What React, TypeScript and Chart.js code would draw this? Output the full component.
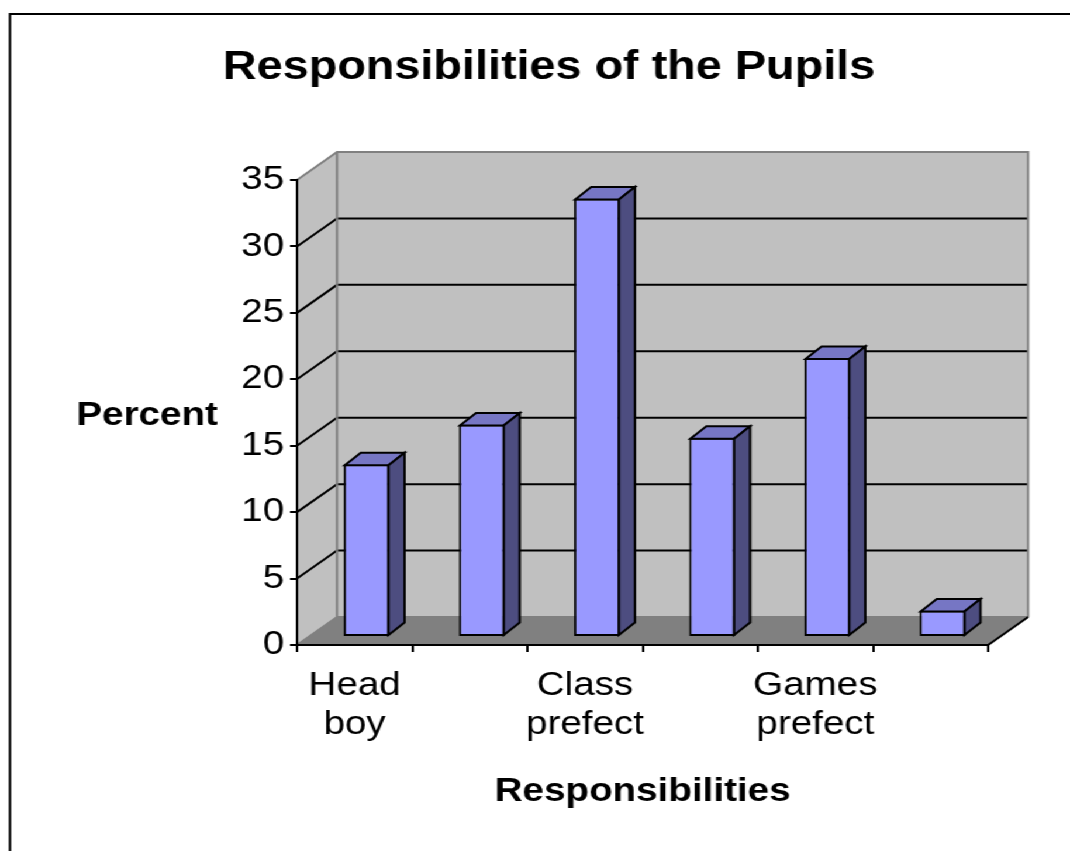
import React, { useEffect, useRef } from "react";
import { Chart, registerables } from "chart.js";

Chart.register(...registerables);

// ---- data ----
const categories = ["Head boy", "", "Class prefect", "", "Games prefect", ""];
const percentValues = [13, 16, 33, 15, 21, 2];
const yTickMin = 0;
const yTickMax = 35;
const yTickStep = 5;

const titleText = "Responsibilities of the Pupils";
const yAxisTitle = "Percent";
const xAxisTitle = "Responsibilities";

// ---- layout / style ----
const CANVAS_W = 915;
const CANVAS_H = 851;
const STRETCH = 1070 / CANVAS_W;
const FONT = "'Liberation Sans', Arial, Helvetica, sans-serif";

const WALL_DX = 34.2;
const WALL_DY = -28;
const BAR_SHIFT_X = 10.3;
const BAR_SHIFT_Y = -8;
const BAR_DX = 13.7;
const BAR_DY = -12.5;

const BAR_FRONT = "#9999FF";
const BAR_TOP = "#7676C4";
const BAR_SIDE = "#4D4D80";
const WALL = "#C0C0C0";
const FLOOR = "#808080";
const EDGE = "#808080";

const threeDPlugin = {
  id: "threeD",
  beforeDraw(chart: any) {
    const { ctx, chartArea: a, scales } = chart;
    const y = scales.y;
    const L = a.left;
    const R = a.right;
    const B = y.getPixelForValue(yTickMin);
    const T = y.getPixelForValue(yTickMax);
    const dx = WALL_DX;
    const dy = WALL_DY;
    ctx.save();
    ctx.fillStyle = "#fff";
    ctx.fillRect(0, 0, chart.width, chart.height);
    // outer frame
    ctx.strokeStyle = "#000";
    ctx.lineWidth = 2;
    ctx.strokeRect(8.5, 14, 3000, 3000);

    // side wall
    ctx.fillStyle = WALL;
    ctx.beginPath();
    ctx.moveTo(L, T);
    ctx.lineTo(L + dx, T + dy);
    ctx.lineTo(L + dx, B + dy);
    ctx.lineTo(L, B);
    ctx.closePath();
    ctx.fill();
    // back wall
    ctx.fillRect(L + dx, T + dy, R - L, B - T);
    // floor
    ctx.fillStyle = FLOOR;
    ctx.beginPath();
    ctx.moveTo(L, B);
    ctx.lineTo(R, B);
    ctx.lineTo(R + dx, B + dy);
    ctx.lineTo(L + dx, B + dy);
    ctx.closePath();
    ctx.fill();

    // gridlines
    ctx.strokeStyle = "#000";
    ctx.lineWidth = 2;
    for (let v = yTickMin + yTickStep; v < yTickMax; v += yTickStep) {
      const py = y.getPixelForValue(v);
      ctx.beginPath();
      ctx.moveTo(L, py);
      ctx.lineTo(L + dx, py + dy);
      ctx.lineTo(R + dx, py + dy);
      ctx.stroke();
    }

    // wall edges
    ctx.strokeStyle = EDGE;
    ctx.lineWidth = 2;
    ctx.beginPath();
    ctx.moveTo(L, T);
    ctx.lineTo(L + dx, T + dy);
    ctx.lineTo(R + dx, T + dy);
    ctx.lineTo(R + dx, B + dy);
    ctx.moveTo(L + dx, T + dy);
    ctx.lineTo(L + dx, B + dy);
    ctx.lineTo(R + dx, B + dy);
    ctx.moveTo(L, B);
    ctx.lineTo(L + dx, B + dy);
    ctx.stroke();

    // floor right edge
    ctx.strokeStyle = "#000";
    ctx.beginPath();
    ctx.moveTo(R, B);
    ctx.lineTo(R + dx, B + dy);
    ctx.stroke();
    ctx.restore();
  },
  beforeDatasetsDraw(chart: any) {
    chart.ctx.save();
    chart.ctx.translate(BAR_SHIFT_X, BAR_SHIFT_Y);
  },
  afterDatasetsDraw(chart: any) {
    const ctx = chart.ctx;
    const meta = chart.getDatasetMeta(0);
    ctx.lineWidth = 2;
    ctx.strokeStyle = "#000";
    ctx.lineJoin = "miter";
    meta.data.forEach((el: any) => {
      const { x, y, base, width } = el.getProps(["x", "y", "base", "width"], true);
      const l = x - width / 2 + 1;
      const r = x + width / 2 - 1;
      const t = y + 1;
      const b = base - 1;
      // top face
      ctx.fillStyle = BAR_TOP;
      ctx.beginPath();
      ctx.moveTo(l, t);
      ctx.lineTo(l + BAR_DX, t + BAR_DY);
      ctx.lineTo(r + BAR_DX, t + BAR_DY);
      ctx.lineTo(r, t);
      ctx.closePath();
      ctx.fill();
      ctx.stroke();
      // side face
      ctx.fillStyle = BAR_SIDE;
      ctx.beginPath();
      ctx.moveTo(r, t);
      ctx.lineTo(r + BAR_DX, t + BAR_DY);
      ctx.lineTo(r + BAR_DX, b + BAR_DY);
      ctx.lineTo(r, b);
      ctx.closePath();
      ctx.fill();
      ctx.stroke();
    });
    ctx.restore();
  },
  afterDraw(chart: any) {
    const ctx = chart.ctx;
    ctx.save();
    ctx.fillStyle = "#000";
    ctx.font = `bold 33px ${FONT}`;
    ctx.textAlign = "center";
    ctx.textBaseline = "alphabetic";
    ctx.fillText(yAxisTitle, 125.8, 425);
    ctx.restore();
  },
};

export default function App() {
  const ref = useRef<HTMLCanvasElement>(null);

  useEffect(() => {
    if (!ref.current) return;
    const chart = new Chart(ref.current, {
      type: "bar",
      data: {
        labels: categories,
        datasets: [
          {
            data: percentValues,
            backgroundColor: BAR_FRONT,
            borderColor: "#000",
            borderWidth: 2,
            borderSkipped: false,
            categoryPercentage: 1,
            barPercentage: 0.4,
            clip: false as any,
          },
        ],
      },
      options: {
        responsive: false,
        animation: false,
        devicePixelRatio: 1,
        layout: { padding: { left: 94, right: 70, top: 0, bottom: 0 } },
        plugins: {
          legend: { display: false },
          tooltip: { enabled: false },
          title: {
            display: true,
            text: titleText,
            color: "#000",
            font: { family: FONT, size: 40, weight: "bold" },
            padding: { top: 44, bottom: 88 },
          },
        },
        scales: {
          x: {
            offset: true,
            grid: {
              offset: true,
              drawOnChartArea: false,
              drawTicks: true,
              tickLength: 7,
              color: "#000",
              lineWidth: 2,
            },
            border: { display: true, color: "#000", width: 2 },
            ticks: {
              autoSkip: false,
              maxRotation: 0,
              minRotation: 0,
              padding: 14,
              color: "#000",
              font: { family: FONT, size: 33 },
              callback: (_v: any, i: number) => {
                const s = categories[i];
                return s.includes(" ") ? s.split(" ") : s;
              },
            },
            title: {
              display: true,
              text: xAxisTitle,
              color: "#000",
              font: { family: FONT, size: 33, weight: "bold" },
              padding: { top: 0, bottom: 39 },
            },
            afterFit: (s: any) => {
              s.height = 206;
            },
          },
          y: {
            min: yTickMin,
            max: yTickMax,
            grid: {
              drawOnChartArea: false,
              drawTicks: true,
              tickLength: 6,
              color: "#000",
              lineWidth: 2,
            },
            border: { display: true, color: "#000", width: 2 },
            ticks: {
              stepSize: yTickStep,
              padding: 5,
              color: "#000",
              font: { family: FONT, size: 33 },
            },
            afterFit: (s: any) => {
              s.width = 160;
            },
          },
        },
      },
      plugins: [threeDPlugin],
    });
    return () => chart.destroy();
  }, []);

  return (
    <div
      style={{
        position: "absolute",
        left: 0,
        top: 0,
        width: CANVAS_W,
        height: CANVAS_H,
        transform: `scaleX(${STRETCH})`,
        transformOrigin: "0 0",
        background: "#fff",
      }}
    >
      <canvas ref={ref} width={CANVAS_W} height={CANVAS_H} style={{ display: "block" }} />
    </div>
  );
}
